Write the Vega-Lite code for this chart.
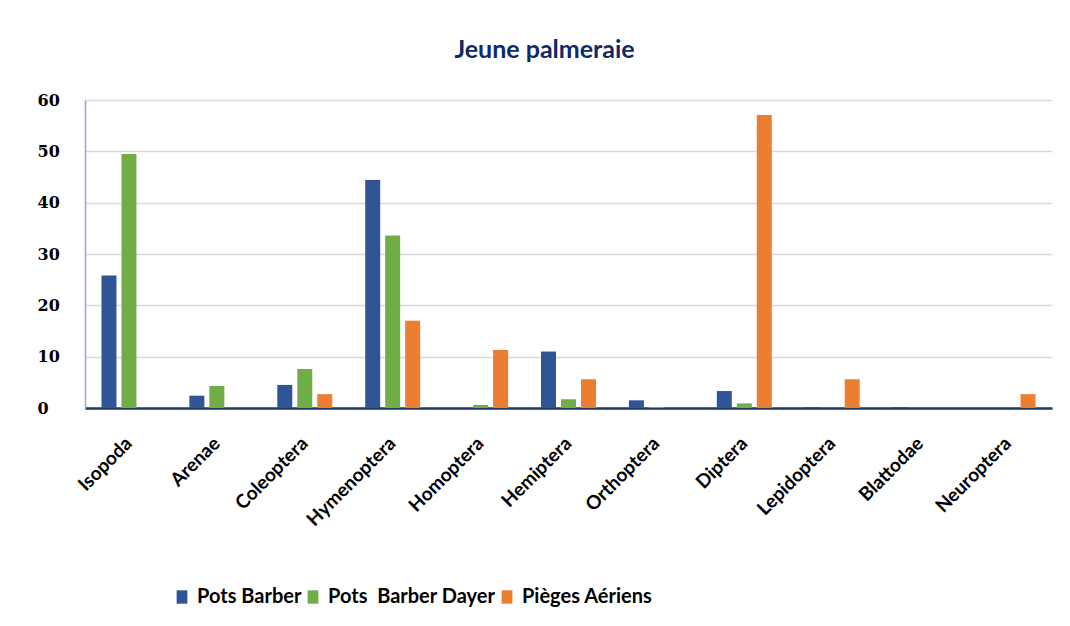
{
  "$schema": "https://vega.github.io/schema/vega-lite/v6.json",
  "width": 967,
  "height": 308,
  "autosize": {"type": "none"},
  "padding": {"left": 85, "top": 100, "right": 18, "bottom": 218},
  "background": "white",
  "title": {
    "text": "Jeune palmeraie",
    "font": "Lato",
    "fontSize": 25,
    "fontWeight": "bold",
    "color": "#0F2A66",
    "anchor": "middle",
    "dx": -24,
    "offset": 29
  },
  "data": {
    "values": [
      {"cat": "Isopoda", "serie": "Pots Barber", "val": 25.8},
      {"cat": "Isopoda", "serie": "Pots\u00a0 Barber Dayer", "val": 49.5},
      {"cat": "Isopoda", "serie": "Pièges Aériens", "val": 0},
      {"cat": "Arenae", "serie": "Pots Barber", "val": 2.4},
      {"cat": "Arenae", "serie": "Pots\u00a0 Barber Dayer", "val": 4.3},
      {"cat": "Arenae", "serie": "Pièges Aériens", "val": 0},
      {"cat": "Coleoptera", "serie": "Pots Barber", "val": 4.5},
      {"cat": "Coleoptera", "serie": "Pots\u00a0 Barber Dayer", "val": 7.6},
      {"cat": "Coleoptera", "serie": "Pièges Aériens", "val": 2.7},
      {"cat": "Hymenoptera", "serie": "Pots Barber", "val": 44.4},
      {"cat": "Hymenoptera", "serie": "Pots\u00a0 Barber Dayer", "val": 33.6},
      {"cat": "Hymenoptera", "serie": "Pièges Aériens", "val": 17},
      {"cat": "Homoptera", "serie": "Pots Barber", "val": 0},
      {"cat": "Homoptera", "serie": "Pots\u00a0 Barber Dayer", "val": 0.6},
      {"cat": "Homoptera", "serie": "Pièges Aériens", "val": 11.3},
      {"cat": "Hemiptera", "serie": "Pots Barber", "val": 11},
      {"cat": "Hemiptera", "serie": "Pots\u00a0 Barber Dayer", "val": 1.7},
      {"cat": "Hemiptera", "serie": "Pièges Aériens", "val": 5.6},
      {"cat": "Orthoptera", "serie": "Pots Barber", "val": 1.5},
      {"cat": "Orthoptera", "serie": "Pots\u00a0 Barber Dayer", "val": 0.2},
      {"cat": "Orthoptera", "serie": "Pièges Aériens", "val": 0},
      {"cat": "Diptera", "serie": "Pots Barber", "val": 3.3},
      {"cat": "Diptera", "serie": "Pots\u00a0 Barber Dayer", "val": 0.9},
      {"cat": "Diptera", "serie": "Pièges Aériens", "val": 57.1},
      {"cat": "Lepidoptera", "serie": "Pots Barber", "val": 0.2},
      {"cat": "Lepidoptera", "serie": "Pots\u00a0 Barber Dayer", "val": 0},
      {"cat": "Lepidoptera", "serie": "Pièges Aériens", "val": 5.6},
      {"cat": "Blattodae", "serie": "Pots Barber", "val": 0.2},
      {"cat": "Blattodae", "serie": "Pots\u00a0 Barber Dayer", "val": 0},
      {"cat": "Blattodae", "serie": "Pièges Aériens", "val": 0},
      {"cat": "Neuroptera", "serie": "Pots Barber", "val": 0},
      {"cat": "Neuroptera", "serie": "Pots\u00a0 Barber Dayer", "val": 0},
      {"cat": "Neuroptera", "serie": "Pièges Aériens", "val": 2.7}
    ]
  },
  "mark": {"type": "bar"},
  "encoding": {
    "x": {
      "field": "cat",
      "type": "nominal",
      "sort": null,
      "scale": {"paddingInner": 0.318, "paddingOuter": 0.159},
      "axis": {
        "title": null,
        "labelAngle": -45,
        "labelAlign": "right",
        "labelBaseline": "middle",
        "labelFont": "Lato",
        "labelFontSize": 19,
        "labelFontWeight": "bold",
        "labelColor": "#000000",
        "labelPadding": 32,
        "ticks": false,
        "domainColor": "#1F3864",
        "domainWidth": 2.5
      }
    },
    "xOffset": {
      "field": "serie",
      "type": "nominal",
      "sort": ["Pots Barber", "Pots\u00a0 Barber Dayer", "Pièges Aériens"],
      "scale": {"paddingInner": 0.25, "paddingOuter": 0.125}
    },
    "y": {
      "field": "val",
      "type": "quantitative",
      "scale": {"domain": [0, 60]},
      "axis": {
        "title": null,
        "values": [0, 10, 20, 30, 40, 50, 60],
        "labelFont": "DejaVu Serif",
        "labelFontSize": 16,
        "labelFontWeight": "bold",
        "labelColor": "#000000",
        "labelAlign": "left",
        "labelBaseline": "middle",
        "labelPadding": 48,
        "ticks": false,
        "domainColor": "#8EA9DB",
        "domainWidth": 1.5,
        "gridColor": "#D9D9D9",
        "gridWidth": 1.5
      }
    },
    "color": {
      "field": "serie",
      "type": "nominal",
      "sort": ["Pots Barber", "Pots\u00a0 Barber Dayer", "Pièges Aériens"],
      "scale": {
        "domain": ["Pots Barber", "Pots\u00a0 Barber Dayer", "Pièges Aériens"],
        "range": ["#2F5597", "#70AD47", "#ED7D31"]
      },
      "legend": {
        "title": null,
        "orient": "none",
        "direction": "horizontal",
        "legendX": 87,
        "legendY": 487,
        "symbolType": "M-0.8,-1L0.8,-1L0.8,1L-0.8,1Z",
        "symbolSize": 180,
        "symbolStrokeWidth": 0,
        "labelFont": "Lato",
        "labelFontSize": 20,
        "labelFontWeight": "bold",
        "labelColor": "#000000",
        "labelOffset": 5,
        "columnPadding": 1,
        "labelLimit": 300
      }
    }
  },
  "config": {
    "view": {"stroke": null},
    "bar": {"strokeWidth": 0}
  }
}
